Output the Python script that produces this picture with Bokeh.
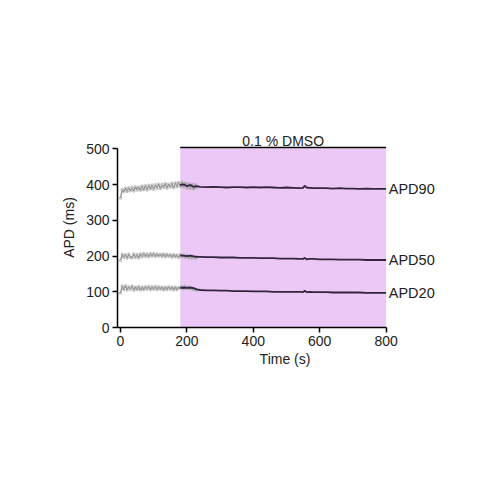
from bokeh.plotting import figure
from bokeh.models import FixedTicker, Range1d
from bokeh.core.properties import value
from bokeh.embed import file_html
from bokeh.resources import INLINE

# ---- data ----
t_pre = [0, 5, 10, 15, 20, 25, 30, 35, 40, 45, 50, 55, 60, 65, 70, 75, 80, 85, 90, 95,
         100, 105, 110, 115, 120, 125, 130, 135, 140, 145, 150, 155, 160, 165, 170, 175,
         180, 185, 190, 195, 200, 205, 210, 215, 220, 225, 230]
apd90_pre = [362, 386, 380, 390, 381, 391, 383, 392, 382, 394, 385, 393, 384, 396, 386, 397,
             385, 398, 388, 399, 387, 400, 390, 401, 389, 400, 392, 403, 390, 401, 393, 404,
             391, 405, 394, 406, 395, 407, 393, 404, 390, 403, 389, 401, 388, 400, 391]
apd50_pre = [188, 205, 196, 204, 194, 205, 197, 195, 206, 196, 204, 195, 206, 198, 207, 199,
             206, 198, 207, 200, 207, 199, 206, 200, 205, 199, 206, 198, 205, 199, 204, 197,
             204, 198, 203, 196, 204, 198, 203, 196, 202, 195, 201, 194, 200, 194, 198]
apd20_pre = [96, 116, 106, 117, 105, 114, 107, 116, 104, 113, 106, 115, 105, 113, 106, 114,
             107, 115, 106, 114, 107, 115, 106, 114, 107, 113, 105, 113, 106, 114, 107, 113,
             105, 113, 106, 112, 110, 114, 108, 115, 109, 113, 108, 110, 106, 107, 104]

t_post = [180, 190, 200, 210, 220, 230, 240, 260, 280, 300, 320, 340, 360, 380, 400, 420,
          440, 460, 480, 500, 520, 540, 550, 555, 560, 570, 580, 600, 620, 640, 660, 680,
          700, 720, 740, 760, 780, 800]
apd90_post = [399, 401, 396, 399, 394, 396, 394, 393, 394, 393, 392, 393, 393, 392, 393, 392,
              393, 392, 391, 392, 391, 390, 391, 397, 392, 391, 390, 390, 390, 389, 390, 389,
              389, 388, 389, 388, 388, 388]
apd50_post = [202, 201, 200, 201, 199, 198, 198, 197, 197, 196, 196, 196, 195, 195, 195, 194,
              194, 194, 193, 193, 193, 192, 192, 195, 191, 192, 192, 191, 191, 191, 190, 190,
              190, 190, 189, 189, 189, 189]
apd20_post = [111, 112, 111, 112, 110, 107, 105, 104, 104, 103, 103, 102, 102, 102, 101, 101,
              101, 100, 100, 100, 100, 100, 99, 103, 99, 100, 99, 99, 99, 98, 98, 98,
              98, 98, 97, 97, 97, 97]

series_names = ["APD90", "APD50", "APD20"]
drug_label = "0.1 % DMSO"
drug_start, drug_end = 180, 800
x_ticks = [0, 200, 400, 600, 800]
y_ticks = [0, 100, 200, 300, 400, 500]

FONT = "Liberation Sans"
TXT = "#222222"

p = figure(width=484, height=484, output_backend="svg", toolbar_location=None,
           x_range=Range1d(-9, 1000), y_range=Range1d(0, 560),
           min_border_left=117, min_border_right=32, min_border_top=127, min_border_bottom=157)
p.outline_line_color = None
p.xgrid.visible = False
p.ygrid.visible = False
p.background_fill_color = "white"
p.border_fill_color = "white"

# drug period shading
p.quad(left=[drug_start], right=[drug_end], bottom=[0], top=[502],
       fill_color="#EBC8F5", line_color=None)
p.line([drug_start, drug_end], [504, 504], line_color="black", line_width=1.5)
p.text(x=[(drug_start + drug_end) / 2], y=[523], text=[drug_label], text_align="center",
       text_baseline="alphabetic", text_font=value(FONT), text_font_size="14px", text_color=TXT)

# pre-drug noisy recordings
for ys in (apd90_pre, apd50_pre, apd20_pre):
    p.line(t_pre, ys, line_color="#8a8a8a", line_width=1.2)
    p.scatter(t_pre, ys, marker="circle", size=2.5, fill_color=None,
              line_color="#a8a8a8", line_width=0.8)

# post-drug traces
for ys in (apd90_post, apd50_post, apd20_post):
    p.line(t_post, ys, line_color="#33243f", line_width=1.8)

# series labels
p.text(x=[808] * 3, y=[apd90_post[-1], apd50_post[-1], apd20_post[-1]], text=series_names,
       text_align="left", text_baseline="middle", text_font=value(FONT),
       text_font_size="14.5px", text_color=TXT)

for ax in (p.xaxis[0], p.yaxis[0]):
    ax.axis_line_color = "black"
    ax.axis_line_width = 1.5
    ax.major_tick_line_color = "black"
    ax.major_tick_line_width = 1.5
    ax.major_tick_in = 0
    ax.major_tick_out = 5
    ax.minor_tick_line_color = None
    ax.major_label_text_font = FONT
    ax.major_label_text_font_size = "14px"
    ax.major_label_text_color = TXT
    ax.axis_label_text_font = FONT
    ax.axis_label_text_font_size = "14px"
    ax.axis_label_text_font_style = "normal"
    ax.axis_label_text_color = TXT

p.xaxis[0].ticker = FixedTicker(ticks=x_ticks)
p.yaxis[0].ticker = FixedTicker(ticks=y_ticks)
p.xaxis[0].bounds = (-9, 800)
p.yaxis[0].bounds = (0, 500)
p.xaxis[0].axis_label = "Time (s)"
p.yaxis[0].axis_label = "APD (ms)"
p.xaxis[0].major_label_standoff = 3
p.yaxis[0].major_label_standoff = 3
p.xaxis[0].axis_label_standoff = 2
p.yaxis[0].axis_label_standoff = 6

open("out.html", "w").write(file_html(p, INLINE))
